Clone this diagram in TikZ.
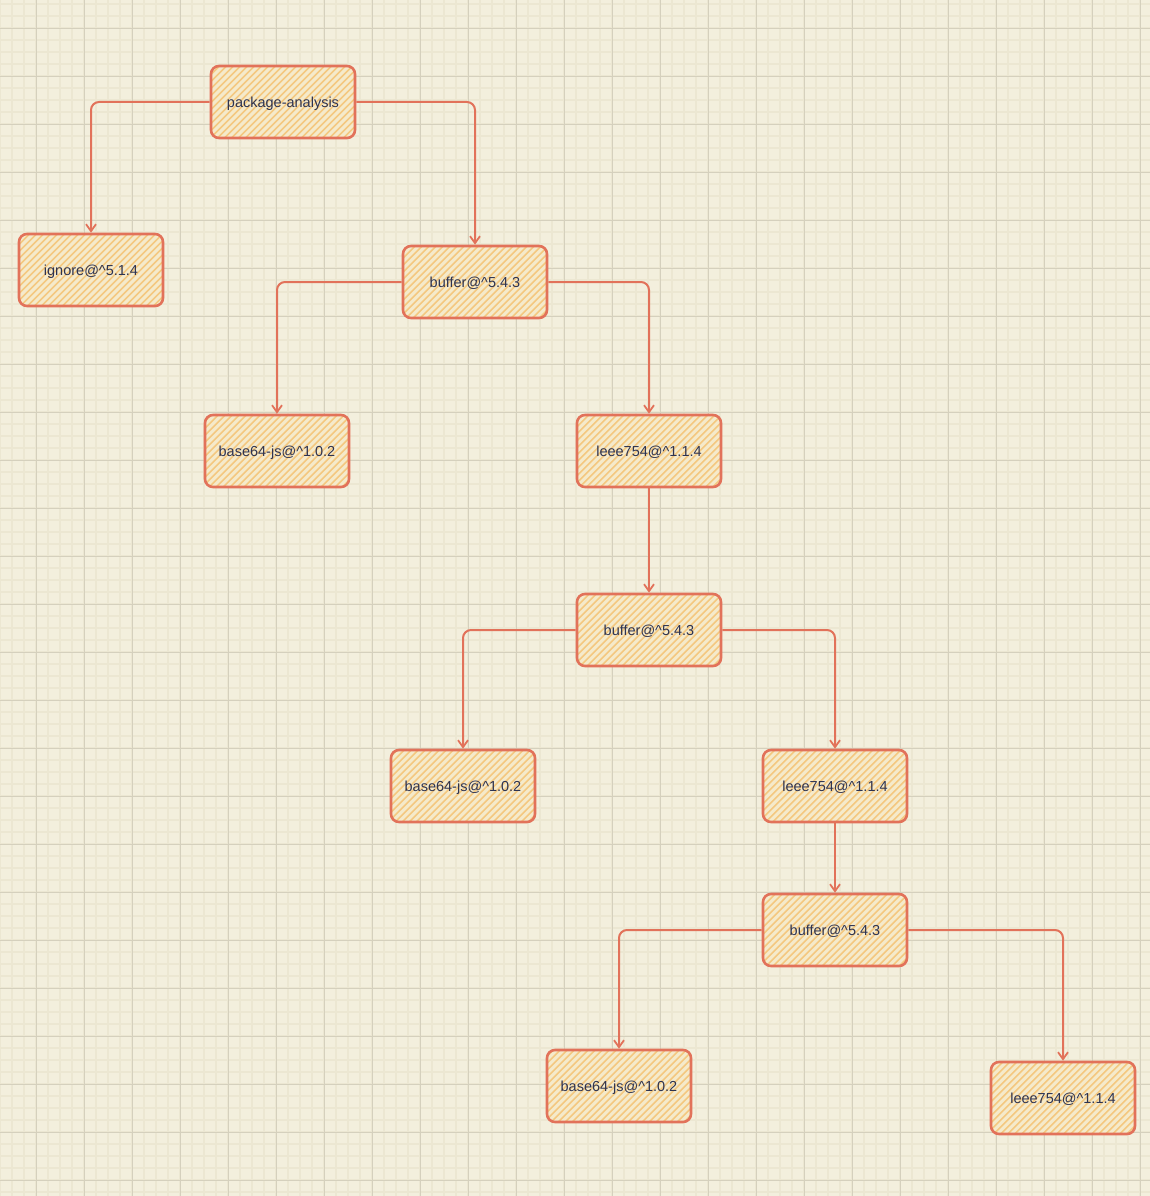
\documentclass[tikz,border=0pt]{standalone}
\usepackage{fontspec}
\setmainfont{Liberation Sans}
\usetikzlibrary{arrows.meta}
\definecolor{paper}{HTML}{F3EFDD}
\definecolor{gridminor}{HTML}{ECE7D2}
\definecolor{gridmajor}{HTML}{D5D0BD}
\definecolor{boxline}{HTML}{E2725A}
\definecolor{boxfill}{HTML}{F5EACB}
\definecolor{hatch}{HTML}{F4C880}
\definecolor{ink}{HTML}{2E3350}
\tikzset{
  pkg/.style={draw=boxline, line width=2.6pt, rounded corners=8pt,
    fill=boxfill, minimum width=144pt, minimum height=72pt,
    text=ink, font=\fontsize{14.5}{17}\selectfont, inner sep=0pt,
    text height=11pt, text depth=0pt,
    path picture={
      \begin{scope}[shift={(path picture bounding box.center)}]
        \foreach \i in {-196,-189,...,196}
          \draw[hatch, line width=1.6pt] (\i-100,100) -- (\i+100,-100);
      \end{scope}}},
  conn/.style={draw=boxline, line width=2pt, rounded corners=8pt,
    -{Straight Barb[length=7pt,width=10pt,line width=1.8pt]}}
}
\begin{document}
\begin{tikzpicture}[x=1pt,y=-1pt]
  \useasboundingbox (0,0) rectangle (1150,1196);
  \fill[paper] (0,0) rectangle (1150,1196);
  % minor grid
  \foreach \x in {0,12,...,1150} \draw[gridminor, line width=1.2pt] (\x,0) -- (\x,1196);
  \foreach \y in {4,16,...,1196} \draw[gridminor, line width=1.2pt] (0,\y) -- (1150,\y);
  % major grid
  \foreach \x in {36,84,...,1150} \draw[gridmajor, line width=0.9pt] (\x,0) -- (\x,1196);
  \foreach \y in {28,76,...,1196} \draw[gridmajor, line width=0.9pt] (0,\y) -- (1150,\y);

  % packages
  \node[pkg] (root) at (283,102) {package-analysis};
  \node[pkg] (ign)  at (91,270)  {ignore@\textasciicircum5.1.4};
  \node[pkg] (bufA) at (475,282) {buffer@\textasciicircum5.4.3};
  \node[pkg] (b64A) at (277,451) {base64-js@\textasciicircum1.0.2};
  \node[pkg] (ieeA) at (649,451) {leee754@\textasciicircum1.1.4};
  \node[pkg] (bufB) at (649,630) {buffer@\textasciicircum5.4.3};
  \node[pkg] (b64B) at (463,786) {base64-js@\textasciicircum1.0.2};
  \node[pkg] (ieeB) at (835,786) {leee754@\textasciicircum1.1.4};
  \node[pkg] (bufC) at (835,930) {buffer@\textasciicircum5.4.3};
  \node[pkg] (b64C) at (619,1086) {base64-js@\textasciicircum1.0.2};
  \node[pkg] (ieeC) at (1063,1098) {leee754@\textasciicircum1.1.4};

  % dependency links
  \draw[conn] (root.west) -| (ign.north);
  \draw[conn] (root.east) -| (bufA.north);
  \draw[conn] (bufA.west) -| (b64A.north);
  \draw[conn] (bufA.east) -| (ieeA.north);
  \draw[conn] (ieeA.south) -- (bufB.north);
  \draw[conn] (bufB.west) -| (b64B.north);
  \draw[conn] (bufB.east) -| (ieeB.north);
  \draw[conn] (ieeB.south) -- (bufC.north);
  \draw[conn] (bufC.west) -| (b64C.north);
  \draw[conn] (bufC.east) -| (ieeC.north);
\end{tikzpicture}
\end{document}
